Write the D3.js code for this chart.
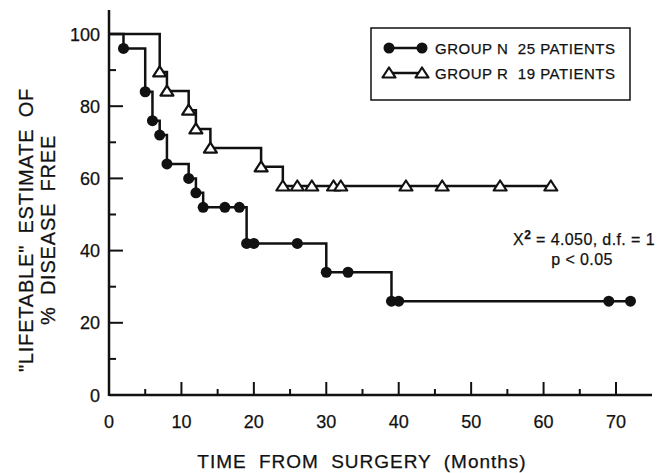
<!DOCTYPE html>
<html>
<head>
<meta charset="utf-8">
<script src="https://cdn.jsdelivr.net/npm/d3@7"></script>
<style>
  body { margin: 0; background: #fff; }
  text { font-family: "Liberation Sans", Arial, sans-serif; fill: #111; stroke: #111; stroke-width: 0.25px; white-space: pre; }
</style>
</head>
<body>
<svg id="chart" width="670" height="473"></svg>
<script>
// group N (filled circles): months, % disease free
const nMonths = [2, 5, 6, 7, 8, 11, 12, 13, 16, 18, 19, 20, 26, 30, 33, 39, 40, 69, 72];
const nValues = [96, 84, 76, 72, 64, 60, 56, 52, 52, 52, 42, 42, 42, 34, 34, 26, 26, 26, 26];

// group R (open triangles)
const rMonths = [7, 8, 11, 12, 14, 21, 24, 26, 28, 31, 32, 41, 46, 54, 61];
const rValues = [89.5, 84.2, 78.9, 73.7, 68.4, 63.2, 57.9, 57.9, 57.9, 57.9, 57.9, 57.9, 57.9, 57.9, 57.9];

const xTicks = [0, 10, 20, 30, 40, 50, 60, 70];
const yTicks = [0, 20, 40, 60, 80, 100];
const legendLabels = ["GROUP N  25 PATIENTS", "GROUP R  19 PATIENTS"];

const svg = d3.select("#chart");
const ink = "#111";

const x = d3.scaleLinear().domain([0, 70]).range([109, 616]);
const y = d3.scaleLinear().domain([0, 100]).range([395, 34]);

// axes
svg.append("line")
    .attr("x1", x(0)).attr("x2", 652)
    .attr("y1", y(0)).attr("y2", y(0))
    .attr("stroke", ink).attr("stroke-width", 2.5);
svg.append("line")
    .attr("x1", x(0)).attr("x2", x(0))
    .attr("y1", y(0) + 1).attr("y2", 10)
    .attr("stroke", ink).attr("stroke-width", 2.5);

// x ticks (inward)
d3.range(5, 75, 5).forEach(t => {
    let major = t % 10 === 0;
    svg.append("line")
        .attr("x1", x(t)).attr("x2", x(t))
        .attr("y1", y(0)).attr("y2", y(0) - (major ? 13 : 6))
        .attr("stroke", ink).attr("stroke-width", 2);
});
xTicks.forEach(t => {
    svg.append("text")
        .attr("x", x(t)).attr("y", 428)
        .attr("text-anchor", "middle")
        .attr("font-size", 18)
        .text(t);
});

// y ticks (inward)
d3.range(10, 110, 10).forEach(v => {
    let major = v % 20 === 0;
    svg.append("line")
        .attr("x1", x(0)).attr("x2", x(0) + (major ? 14 : 7))
        .attr("y1", y(v)).attr("y2", y(v))
        .attr("stroke", ink).attr("stroke-width", 2);
});
yTicks.forEach(v => {
    svg.append("text")
        .attr("x", 100).attr("y", y(v) + 6.5)
        .attr("text-anchor", "end")
        .attr("font-size", 18)
        .text(v);
});

// axis titles
svg.append("text")
    .attr("x", 362).attr("y", 468)
    .attr("text-anchor", "middle")
    .attr("font-size", 19)
    .attr("letter-spacing", 1)
    .attr("word-spacing", 6)
    .text("TIME FROM SURGERY (Months)");

let yTitle = svg.append("g").attr("transform", "translate(0,230) rotate(-90)");
yTitle.append("text")
    .attr("x", 0).attr("y", 33)
    .attr("text-anchor", "middle")
    .attr("font-size", 20)
    .attr("letter-spacing", 0.8)
    .attr("word-spacing", 5)
    .text("\"LIFETABLE\" ESTIMATE OF");
yTitle.append("text")
    .attr("x", 0).attr("y", 55)
    .attr("text-anchor", "middle")
    .attr("font-size", 20)
    .attr("letter-spacing", 0.8)
    .attr("word-spacing", 5)
    .text("% DISEASE FREE");

// step curves
const stepLine = d3.line()
    .x(d => x(d[0]))
    .y(d => y(d[1]))
    .curve(d3.curveStepAfter);

const nPoints = [[0, 100]].concat(nMonths.map((m, i) => [m, nValues[i]]));
const rPoints = [[0, 100]].concat(rMonths.map((m, i) => [m, rValues[i]]));

svg.append("path")
    .attr("d", stepLine(rPoints))
    .attr("fill", "none").attr("stroke", ink).attr("stroke-width", 2.5);
svg.append("path")
    .attr("d", stepLine(nPoints))
    .attr("fill", "none").attr("stroke", ink).attr("stroke-width", 2.5);

// slightly wide open triangle
const triPath = "M0,-5.5L6.5,4.5L-6.5,4.5Z";

function drawCircle(cx, cy) {
    svg.append("circle")
        .attr("cx", cx).attr("cy", cy).attr("r", 5.5)
        .attr("fill", ink);
}
function drawTriangle(cx, cy) {
    svg.append("path")
        .attr("d", triPath)
        .attr("transform", `translate(${cx},${cy})`)
        .attr("fill", "#fff").attr("stroke", ink).attr("stroke-width", 2.2)
        .attr("stroke-linejoin", "round");
}

nMonths.forEach((m, i) => drawCircle(x(m), y(nValues[i])));
rMonths.forEach((m, i) => drawTriangle(x(m), y(rValues[i])));

// legend
svg.append("rect")
    .attr("x", 371).attr("y", 28)
    .attr("width", 259).attr("height", 72)
    .attr("fill", "none").attr("stroke", ink).attr("stroke-width", 1.5);

[48, 73].forEach((ly, i) => {
    svg.append("line")
        .attr("x1", 389).attr("x2", 422)
        .attr("y1", ly).attr("y2", ly)
        .attr("stroke", ink).attr("stroke-width", 2.5);
    if (i === 0) {
        drawCircle(389, ly);
        drawCircle(422, ly);
    } else {
        drawTriangle(389, ly);
        drawTriangle(422, ly);
    }
    svg.append("text")
        .attr("x", 435).attr("y", ly + 5.5)
        .attr("font-size", 15)
        .attr("textLength", 180)
        .attr("lengthAdjust", "spacing")
        .text(legendLabels[i]);
});

// statistics note
let note = svg.append("text")
    .attr("x", 584).attr("y", 245)
    .attr("text-anchor", "middle")
    .attr("font-size", 16)
    .attr("letter-spacing", 0.4);
note.append("tspan").text("X");
note.append("tspan").attr("dy", -6).attr("font-size", 12).attr("font-weight", "bold").text("2");
note.append("tspan").attr("dy", 6).text(" = 4.050, d.f. = 1");

svg.append("text")
    .attr("x", 582).attr("y", 265)
    .attr("text-anchor", "middle")
    .attr("font-size", 16)
    .attr("letter-spacing", 0.4)
    .text("p < 0.05");
</script>
</body>
</html>
